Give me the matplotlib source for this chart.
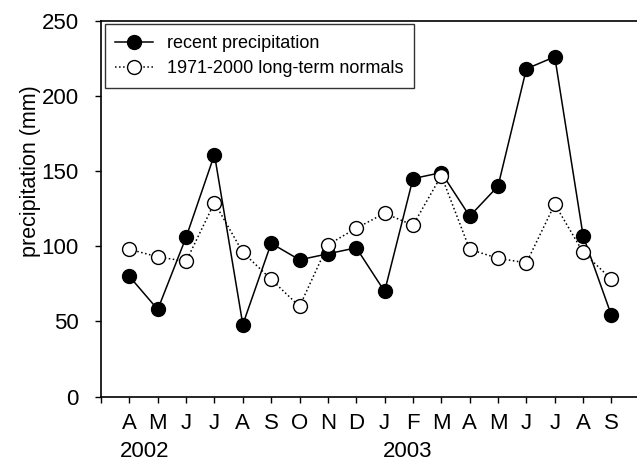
import numpy as np
import matplotlib
matplotlib.use("Agg")
import matplotlib.pyplot as plt

plt.rcParams['font.family'] = ['Liberation Sans', 'DejaVu Sans']

months = ['A', 'M', 'J', 'J', 'A', 'S', 'O', 'N', 'D',
          'J', 'F', 'M', 'A', 'M', 'J', 'J', 'A', 'S']
recent = [80, 58, 106, 161, 48, 102, 91, 95, 99,
          70, 145, 149, 120, 140, 218, 226, 107, 54]
normals = [98, 93, 90, 129, 96, 78, 60, 101, 112,
           122, 114, 147, 98, 92, 89, 128, 96, 78]

x = np.arange(1, len(months) + 1)

fig = plt.figure(figsize=(6.37, 4.63), dpi=100)
ax = fig.add_axes([0.1586, 0.1432, 0.8414, 0.8121])

ax.plot(x, recent, '-', color='k', lw=1.1, marker='o', ms=10,
        mfc='k', mec='k', label='recent precipitation')
ax.plot(x, normals, ':', color='k', lw=1.1, marker='o', ms=10,
        mfc='white', mec='k', mew=1.0, label='1971-2000 long-term normals')

ax.set_xlim(0, 18.9)
ax.set_ylim(0, 250)
ax.set_xticks(np.arange(0, 19))
ax.set_xticklabels([''] + months)
ax.set_yticks(np.arange(0, 251, 50))
ax.tick_params(direction='out', length=4, width=1, labelsize=16)
ax.tick_params(axis='x', pad=8)
ax.tick_params(axis='y', pad=12)
for s in ['left', 'bottom', 'top']:
    ax.spines[s].set_linewidth(1.2)
ax.spines['right'].set_visible(False)

ax.set_ylabel('precipitation (mm)', fontsize=15.5)
ax.yaxis.set_label_coords(-0.112, 0.60)

ax.text(1.55, -0.145, '2002', transform=ax.get_xaxis_transform(),
        ha='center', va='center', fontsize=16)
ax.text(10.8, -0.145, '2003', transform=ax.get_xaxis_transform(),
        ha='center', va='center', fontsize=16)

leg = ax.legend(loc='upper left', fontsize=13, frameon=True, fancybox=False,
                edgecolor='k', borderaxespad=0.2, handlelength=2.1,
                handletextpad=0.75, labelspacing=0.45, borderpad=0.6)
leg.get_frame().set_linewidth(1.0)

fig.savefig('out.png', dpi=100)
